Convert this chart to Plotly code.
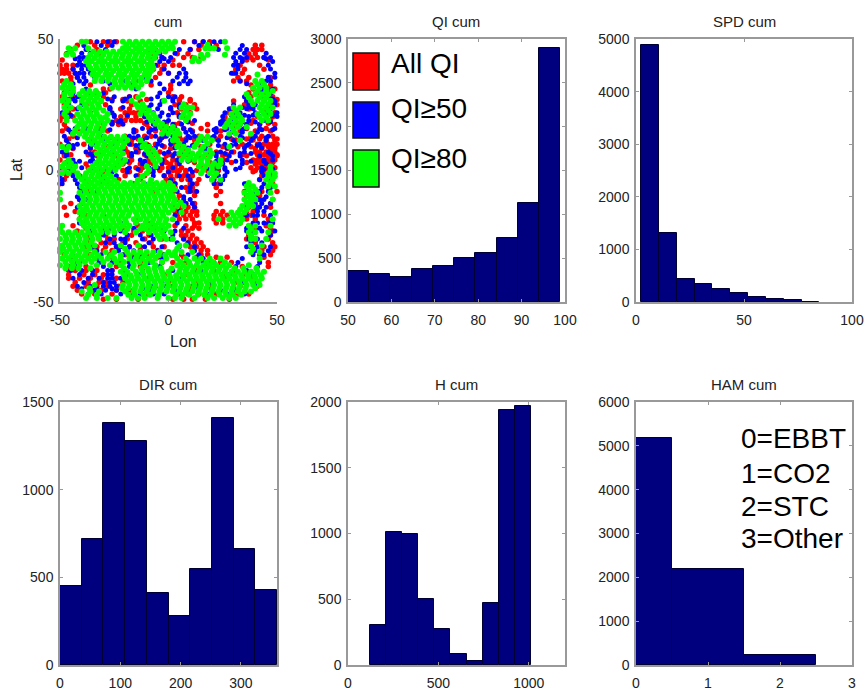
import plotly.graph_objects as go

W, H = 866, 691

# ---------- histogram data ----------
qi_centers = [52.4, 57.3, 62.2, 67.1, 72.0, 76.9, 81.8, 86.7, 91.6, 96.5]
qi_counts = [355, 320, 290, 380, 410, 500, 560, 730, 1130, 2900]
spd_centers = [6.5, 14.75, 23.0, 31.25, 39.5, 47.75, 56.0, 64.25, 72.5, 80.75]
spd_counts = [4880, 1310, 440, 340, 240, 170, 100, 50, 45, 8]
dir_centers = [18, 54, 90, 126, 162, 198, 234, 270, 306, 342]
dir_counts = [450, 720, 1380, 1280, 410, 280, 550, 1410, 660, 430]
h_centers = [166, 255, 344, 433, 522, 611, 700, 789, 878, 967]
h_counts = [305, 1015, 995, 500, 275, 80, 30, 475, 1940, 1970]
ham_centers = [0.0, 1.0, 2.0]
ham_counts = [5180, 2200, 220]

# ---------- scatter data: latitude rows with the longitudes read on each row ----------
red_lats = [49, 46, 43, 40, 37, 34, 31, 28, 25, 22, 19, 16, 13, 10, 7, 4, 1, -2, -5, -8, -11, -14, -17, -20, -23, -26, -29, -32, -35, -38, -41, -44, -47, -49,
            47.6, 44.4, 38.5, 35.4, 29.6, 26.4, 20.4, 17.5, 11.6, 8.4, 5.6, 2.5, -0.5, -3.4, -15.6, -18.4, -24.6, -27.5, -30.4, -39.6, -42.5,
            42, 32.5, 27, 23.4, 18, 15, 12, 9, 6, 3, 0, -6.5, -9.5, -12.5, -21, -22, -33, -36.5, -45.5]
red_lons = [
    [-36, -30, -27, -24, 7, 12, 16, 19],
    [-45, -33, -9, 10, 14, 39, 41, 43],
    [-6, -3, 7, 11, 15, 38, 41, 44],
    [-50, -47, -44, -5, -2, 2, 5, 33, 42],
    [-50, -48, -46, -43, -10, -4, 0, 30, 34],
    [-49, -45, -15, -10, 30, 33, 36],
    [-30, -27, 1, 39, 46, 49],
    [-49, -44, -30, -18, -15, 2, 6, 38, 42, 48],
    [-48, -38, -29, -17, -12, 3, 8, 12, 35, 47, 50],
    [-46, -36, -20, -18, -16, -14, 4, 10, 28, 31, 44, 49],
    [-50, -24, -20, -17, -15, -13, -5, 9, 27, 34, 39, 47],
    [-47, -32, -9, -3, 1, 7, 15, 30, 36, 45],
    [-44, -20, -11, -8, -2, 5, 14, 24, 38, 43, 48],
    [-50, -39, -17, -10, -6, 3, 12, 19, 34, 41, 44, 46, 48, 50],
    [-48, -34, -31, -19, -14, -4, 9, 22, 30, 40, 42, 45, 47, 49],
    [-50, -46, -22, -17, -9, -2, 2, 10, 25, 39, 41, 43, 45, 47, 49],
    [-49, -37, -25, -15, -12, -3, 0, 3, 6, 16, 21, 38, 41, 44, 46, 49],
    [-47, -41, -20, -14, -11, -2, 1, 4, 7, 11, 22, 43, 47],
    [-50, -38, -27, -16, -8, 0, 3, 10, 13, 23, 36, 48],
    [-36, -6, 2, 9, 12, 24, 35, 43, 50],
    [-41, 4, 42, 48],
    [-48, 3, 6, 9, 12, 37, 41, 47],
    [-47, -38, 4, 7, 10, 13, 21, 24, 27, 35, 38, 44],
    [-40, -15, -10, 12, 14, 22, 25, 33, 47],
    [-42, -35, -28, -16, -12, -6, 6, 9, 37, 39, 48],
    [-36, -32, -28, -25, -19, -11, -3, 7, 10, 13, 36, 40, 46],
    [-38, -33, -29, -24, -18, -13, -7, -2, 10, 13, 16, 38, 44, 49],
    [-48, -36, -27, -20, -16, -10, -3, 6, 15, 18, 42, 47],
    [-42, -30, -22, -12, -3, 2, 8, 19, 24, 29, 46],
    [-46, -43, -38, -33, -26, -12, 1, 13, 21, 30],
    [-46, -41, -36, -31, -24, -9, 4, 16, 27, 38],
    [-44, -38, -33, -28, -23, -6, 2, 11, 19, 33, 41],
    [-40, -34, -26, -16, -10, 4, 9, 14, 22, 32, 37],
    [-30, -24, -14, 2, 7, 11, 17, 28],
    [-42, -34, -28, 15, 22, 40, 43],
    [-47, -31, -8, 4, 9, 37, 40],
    [-49, -47, -44, -7, -3, 31, 35, 44],
    [-45, -42, -12, -6, 32, 37, 47],
    [-48, -33, -29, 0, 37, 41, 45],
    [-47, -31, -19, -13, 5, 10, 30, 36, 49],
    [-49, -44, -22, -19, -15, -11, 5, 7, 26, 30, 41, 48],
    [-48, -30, -23, -10, -6, 3, 18, 29, 33, 42, 49],
    [-47, -35, -17, -12, -4, 6, 12, 23, 31, 39, 45, 49],
    [-44, -36, -20, -15, -8, 1, 8, 16, 27, 40, 43, 47, 49],
    [-48, -33, -24, -18, -10, -1, 5, 14, 25, 36, 42, 46, 50],
    [-45, -38, -21, -13, -7, 1, 4, 18, 24, 40, 43, 47],
    [-50, -44, -29, -18, -9, 0, 4, 8, 19, 22, 39, 45, 48],
    [-48, -39, -23, -13, -1, 2, 6, 9, 14, 24, 42, 46],
    [-43, 3, 5, 8, 11, 13, 22, 25, 36, 39],
    [-41, -14, 5, 8, 11, 21, 25, 36, 40, 46],
    [-37, -29, -17, -9, 6, 8, 11, 37, 47],
    [-36, -31, -27, -21, -15, -8, 9, 12, 15, 40, 48],
    [-34, -30, -26, -19, -13, -5, 11, 15, 18, 43, 48],
    [-46, -39, -34, -30, -19, -2, 9, 25, 36],
    [-43, -37, -32, -29, -21, 0, 14, 31, 40],
    [-49, -8, 2, 36, 39, 46],
    [-48, -36, -18, -8, 1, 38, 47],
    [-46, -40, -26, -21, -10, 5, 10, 36, 44, 50],
    [-44, -27, -22, -18, 1, 6, 13, 29, 37, 45],
    [-26, -22, -11, -1, 5, 11, 26, 32, 38, 46],
    [-49, -42, -28, -15, -6, 4, 11, 18, 24, 33, 40, 47],
    [-46, -36, -24, -14, -4, 8, 16, 22, 29, 36, 42, 50],
    [-47, -28, -21, -12, -2, 6, 15, 25, 32, 38, 43, 46, 49],
    [-45, -37, -26, -11, -7, 1, 8, 18, 27, 34, 41, 44, 48, 50],
    [-47, -33, -18, -9, -1, 4, 12, 19, 29, 36, 40, 42, 45, 48],
    [-48, -31, -21, -13, -4, 2, 5, 8, 13, 18, 23, 40, 43, 47],
    [-37, -4, 3, 8, 11, 22, 37, 46],
    [-40, 5, 12, 22, 36, 42],
    [-45, 8, 12, 24, 38, 47],
    [-44, -14, -8, 3, 8, 12, 38, 45],
    [-38, -30, -20, -9, 11, 14, 40, 47],
    [-45, -37, -26, -14, -5, 7, 13, 22, 27, 44],
    [-46, -38, -24, -13, 18, 34, 46],
    [-42, -36, -31, -24, -18, 10, 20, 30],
]

blue_lats = [49, 46, 43, 40, 37, 34, 31, 28, 25, 22, 19, 16, 13, 10, 7, 4, 1, -2, -5, -8, -11, -14, -17, -20, -23, -26, -29, -32, -35, -38, -41, -44, -47,
             47.5, 44.6, 41.4, 38.6, 35.5, 29.5, 26.4, 23.5, 20.5, 17.6, 14.5, 11.4, 8.6, 5.5, 2.6, -0.6, -3.5, -12.5, -15.5, -24.5, -27.5, -30.5, -39.5, -42.6, -45.5,
             42.5, 33, 27.2, 24, 21, 18.4, 15.5, 12.5, 9.5, 6.5, 3.5, 0.5, -6.5, -10, -20, -22, -33.5, -36.5, -45]
blue_lons = [
    [-33, -28, -25, 12, 16, 21, 24],
    [-38, -29, -6, 5, 10, 23, 33, 36],
    [-41, -39, -37, -3, 1, 30, 33, 36, 44, 47],
    [-42, -40, -38, -6, 30, 32, 46],
    [-43, -41, -39, -36, 0, 5, 8, 29, 31, 49],
    [-41, -38, -30, -20, -8, 2, 7, 10, 33, 45, 47],
    [-46, -38, -15, -2, 42, 44, 48],
    [-42, -25, -18, -5, 0, 3, 35, 37, 46],
    [-46, -40, -12, -8, -4, 5, 30, 37, 40, 49],
    [-49, -26, -12, -7, -3, 2, 26, 33, 40, 46, 50],
    [-40, -22, -9, -6, 0, 12, 25, 29, 37, 44],
    [-43, -38, -12, -6, -1, 3, 7, 22, 27, 35, 42, 49],
    [-48, -30, -18, -14, -6, -1, 2, 9, 12, 21, 28, 33, 40, 46],
    [-46, -42, -35, -26, -18, -13, -5, 1, 7, 13, 18, 26, 31, 37, 42],
    [-49, -38, -26, -21, -15, -7, 0, 6, 17, 24, 29, 35, 46],
    [-44, -35, -21, -13, -7, -3, 4, 23, 27, 34, 44, 48],
    [-46, -40, -29, -18, -9, -5, 2, 20, 23, 26, 33, 43],
    [-50, -44, -30, -24, -15, -7, -2, 5, 9, 18, 23, 26, 44, 46],
    [-49, -42, -31, -20, -11, 3, 11, 21, 24, 35, 44],
    [-40, -33, 4, 10, 13, 40, 42, 46],
    [-41, -38, 7, 10, 40, 42, 44],
    [-42, 12, 36, 40, 42, 45],
    [-40, -30, 3, 36, 39, 41, 47],
    [-39, -22, -8, 39, 44, 48],
    [-36, -30, -22, -15, -2, 3, 36, 38, 43, 49],
    [-27, -22, -20, -12, -7, -4, 1, 7, 37, 39, 41],
    [-35, -24, -22, -18, -11, -3, 5, 12, 36, 41, 47],
    [-44, -31, -21, -13, -2, 9, 14, 39, 44],
    [-41, -32, -26, -18, -9, 16, 21, 32, 42],
    [-45, -40, -35, -28, -26, -20, 2, 8, 15, 36],
    [-44, -37, -32, -28, -26, -22, -5, 6, 25],
    [-42, -36, -30, -27, -24, -8, -1, 13, 30, 40],
    [-37, -31, -22, -13, -7, -2, 5, 19, 27, 35],
    [-39, -31, -26, 14, 19, 34],
    [-40, -36, -4, 3, 31, 35, 45],
    [-41, -37, -4, 0, 31, 34, 48],
    [-44, -40, -37, -2, 7, 32, 47],
    [-42, -39, -34, -11, 4, 8, 46, 49],
    [-44, -37, -30, -4, 43, 47],
    [-43, -26, -21, -3, 2, 36, 44, 49],
    [-42, -27, -10, -5, 1, 28, 36, 39, 47],
    [-46, -25, -11, -4, 5, 25, 31, 37, 42, 50],
    [-41, -26, -21, -7, 2, 6, 24, 29, 36, 42],
    [-45, -32, -16, -9, -2, 8, 11, 22, 29, 34, 41],
    [-47, -29, -20, -12, -4, 1, 8, 16, 23, 30, 38, 45],
    [-44, -36, -21, -13, -6, 3, 9, 17, 27, 35, 43],
    [-47, -35, -17, -10, 2, 22, 28, 33, 42, 48],
    [-43, -34, -22, -12, -3, 5, 21, 25, 34, 45],
    [-45, -26, -19, -7, 0, 11, 22, 27, 43, 47],
    [-49, -43, -29, -14, 1, 10, 21, 25, 42, 46],
    [-40, 8, 11, 40, 43, 47],
    [-40, 5, 41, 44],
    [-30, -25, -19, -13, -8, 2, 38, 47],
    [-29, -25, -20, -9, 4, 9, 38, 43],
    [-33, -23, -16, -5, 12, 40, 46],
    [-41, -35, -28, -26, -14, 28, 39],
    [-39, -30, -27, -25, -3, 20, 35],
    [-34, -29, -24, -9, 3, 24],
    [-43, -39, -2, 34, 45],
    [-44, -39, -27, -18, -4, 5, 9, 36, 43],
    [-44, -28, -20, -8, 2, 37, 48],
    [-47, -27, -21, -9, 1, 5, 34, 38, 47],
    [-45, -25, -19, -11, 0, 5, 29, 35, 39, 48],
    [-26, -23, -10, -2, 9, 24, 34, 40, 47],
    [-46, -27, -16, -8, 0, 10, 21, 26, 34, 43, 48],
    [-42, -27, -16, -10, -3, 10, 20, 27, 34, 39, 45],
    [-44, -36, -15, -9, -3, 11, 23, 29, 36, 41],
    [-47, -36, -17, -11, -2, 3, 22, 26, 33, 38, 47],
    [-41, -36, -19, -11, -3, 9, 22, 31, 38, 44],
    [-44, -34, -19, -14, -7, 10, 19, 26, 31, 44, 48],
    [-41, 6, 10, 43, 47],
    [-42, 7, 40, 45],
    [-41, 4, 41, 46],
    [-27, -16, -3, 7, 36, 42],
    [-43, -33, -16, -3, 16, 34],
    [-42, -30, -18, -4, 31, 41],
    [-40, -33, -26, -12, 14, 30],
]

green_lats = [49, 46.5, 44, 41.5, 39, 36.5, 34, 31.5, 29, 26.5, 24, 21.5, 19, 16.5, 14, 11.5, 9, 6.5, 4, 1.5, -1, -3.5, -6, -8.5, -11, -13.5, -16, -18.5, -21, -23.5, -26, -28.5, -31, -33.5, -36, -38.5, -41, -43.5, -46, -48.5,
              47.8, 45.2, 42.8, 40.2, 37.8, 35.2, 32.8, 30.2, 27.8, 25.2, 22.8, 20.2, 17.8, 15.2, 12.8, 10.2, 7.8, 5.2, 2.8, 0.2, -2.2, -4.8, -7.2, -9.8, -12.2, -14.8, -17.2, -19.8, -22.2, -24.8, -27.2, -29.8, -32.2, -34.8, -37.2, -39.8, -42.2, -44.8, -47.2]
green_lons = [
    [-40, -38, -21, -18, -15, -12, -9, -6, -3, 0, 3, 26],
    [-46, -43, -37, -21, -18.5, -15, -12.5, -9, -6.5, -3, 0, 2, 17, 19, 21, 27],
    [-47, -44, -36, -33, -30, -27, -24, -21, -18, -15, -12, -9, -6, 15, 18, 26],
    [-38, -35.5, -32, -29.5, -26, -23.5, -20, -17.5, -14, -11.5, -8, 11, 14],
    [-36, -33, -30, -27, -24, -21, -18, -15, -12, -9, -7],
    [-35, -32.5, -29, -26.5, -23, -20.5, -17, -14.5, -11, -9, 41],
    [-47, -34, -31, -28, -25, -22, -19, -16, -13, -10, 40, 43],
    [-49, -46, -44, -26, -23, -20, -17, -14, 39, 42, 45],
    [-48, -45, -41, -38, -35, -32, -12, 36, 40, 43, 46],
    [-49, -46, -40, -37, -34, -31, -17, -2, 38, 41, 44, 47],
    [-48, -45, -41, -38, -35, -32, -14, -11, 6, 9, 11, 30, 33, 42, 45, 48],
    [-48, -42, -39, -36, -33, -28, -13, -10, -7, 7, 10, 29, 32, 41, 44, 47],
    [-47, -43, -40, -37, -34, -31, -28, -8, -5, 8, 28, 31, 34, 43, 46],
    [-42, -39, -36, -33, -30, -4, -1, 2, 26, 29, 32, 36],
    [-44, -41, -38, -35, -32, -3, 0, 3, 5, 28, 31, 38],
    [-37, -34, -31, -28, -25, -22, -19, -13, 2, 4, 14, 17, 20, 33],
    [-49, -46, -33, -30, -27, -24, -21, -12, -9, 4, 7, 12, 16, 28],
    [-33, -30, -27, -24, -21, -9, -6, 5, 8, 11, 14, 17, 20],
    [-46, -32, -29, -26, -23, -20, -7, -4, 6, 9, 12, 15, 18, 24],
    [-49, -46, -43, -35, -32, -29, -26, -23, -10, -6, 14, 17, 20, 23, 47],
    [-49, -46, -42, -38, -35, -32, -28, -10, 15, 19, 22, 46, 49],
    [-40, -37, -34, -31, -28, -25, -14, -8, 20, 24, 45, 48],
    [-40, -37, -34, -31, -28, -25, -22, -19, -16, -13, -10, -7, -4, -1, 2, 36, 39, 46, 49],
    [-50, -41, -38, -35, -32, -29, -26, -23, -20, -17, -14, -11, -8, -5, -2, 1, 35, 38, 41, 47],
    [-50, -39, -36, -33, -30, -27, -24, -21, -18, -15, -12, -9, -6, -3, 0, 3, 35, 38, 40, 48],
    [-41, -38, -35, -32, -29, -26, -23, -20, -17, -14, -11, -8, -5, -2, 1, 4, 7, 34, 37, 39],
    [-41, -39, -36, -33, -30, -27, -24, -21, -18, -15, -12, -9, -6, -3, 0, 6, 29, 32, 35, 49],
    [-41, -38, -35, -32, -29, -26, -23, -20, -16, -13, -10, -7, -4, -1, 2, 23, 28, 31, 34, 48],
    [-49, -39, -36, -33, -30, -27, -24, -21, -18, -12, -9, -6, -3, 0, 28, 31, 37, 40, 47],
    [-49, -46, -43, -40, -37, -34, -31, -28, -25, -20, -15, -9, -6, -3, 1, 37, 40, 46],
    [-50, -47, -44, -41, -38, -35, -32, -4, -1, 2, 38, 40, 45],
    [-49, -46, -43, -40, -37, -34, -22, -14, 5, 8, 38, 43],
    [-50, -47, -44, -41, -38, -34, -29, -25, -19, -16, -13, -10, -7, -4, 0, 3, 6, 11, 38, 42],
    [-49, -46, -43, -40, -37, -34, -31, -28, -25, -22, -18, -15, -12, -9, -6, -1, 4, 8, 12, 15, 19, 24, 42],
    [-50, -47, -44, -41, -33, -27, -22, -16, -11, -6, 4, 7, 10, 13, 16, 19, 22, 25, 28, 37],
    [-22, -19, -15, -12, -9, -6, -3, 0, 5, 8, 11, 14, 17, 20, 23, 26, 29, 32, 35, 38, 41, 44],
    [-20, -17, -14, -11, -8, -5, -2, 1, 4, 7, 10, 13, 16, 19, 22, 25, 28, 31, 34, 37, 40, 43],
    [-34, -21, -18, -15, -12, -9, -6, -3, 0, 3, 6, 9, 12, 15, 18, 21, 24, 27, 30, 33, 36, 39, 42],
    [-40, -36, -32, -20, -16, -13, -10, -7, -4, -1, 2, 5, 8, 11, 14, 17, 20, 23, 26, 29, 32, 35, 38],
    [-38, -33, -28, -24, -17, -14, -11, -5, 0, 3, 6, 12, 18, 21, 25, 28, 31],
    [-19.5, -16.5, -13.5, -10.5, -7.5, -4.5, -1.5, 1.5, 18],
    [-45, -34.5, -31.5, -28.5, -25.5, -22.5, -19.5, -16.5, -13.5, -10.5, -7.5, -4.5, -1.5],
    [-37, -34, -31, -27.5, -24.5, -21.5, -18.5, -15.5, -12.5, -9.5, -6.5, 12, 16],
    [-36.8, -33.5, -30.5, -27.5, -24.5, -21.5, -18.5, -15.5, -12.5, -9.5, -7.5],
    [-34.5, -31.5, -28.5, -25.5, -22.5, -19.5, -16.5, -13.5, -10.5, -8],
    [-33.5, -30.5, -27.5, -24.5, -21.5, -18.5, -15.5, -12.5, -9.5],
    [-48, -45, -24.5, -21.5, -18.5, -15.5, -12.5, 41, 44],
    [-47, -44, -39.5, -36.5, -33.5, 41, 45, 48],
    [-48, -39, -36, -33, -14, 37, 42, 45],
    [-47, -38.5, -35.5, -32.5, -15, -12, 7, 39, 43, 46],
    [-47, -39.5, -36.5, -33.5, -30, -12, -9, 8, 31, 43, 46],
    [-47, -40.5, -37.5, -34.5, -31.5, -29, -9, -6, 6, 9, 30, 33, 42, 45],
    [-41, -38.5, -35.5, -32.5, -29.5, -6, -3, 27, 30, 33],
    [-43, -39.5, -36.5, -33.5, -30.5, -2, 1, 4, 30],
    [-38.5, -35.5, -32.5, -29.5, -26.5, -23.5, -20.5, 3, 15, 18],
    [-35.5, -32.5, -29.5, -26.5, -23.5, -20.5, -11, 5, 13, 18],
    [-47, -31.5, -28.5, -25.5, -22.5, -10, -7, 6, 9, 15, 19],
    [-31.5, -28.5, -25.5, -22.5, -8, -5, 7, 10, 13, 16, 19],
    [-48, -45, -33.5, -30.5, -27.5, -24.5, -21.5, -6, 15, 18, 21, 24],
    [-48, -44, -36.5, -33.5, -30.5, -27.5, -24.5, -9, 16, 20, 47],
    [-41.5, -38.5, -35.5, -32.5, -29.5, -26.5, -12, 21, 46, 49],
    [-38.5, -35.5, -32.5, -29.5, -26.5, -23.5, -20.5, -17.5, -14.5, -11.5, -8.5, -5.5, -2.5, 0.5, 37, 47],
    [-38.5, -35.5, -32.5, -29.5, -26.5, -23.5, -20.5, -17.5, -14.5, -11.5, -8.5, -5.5, -2.5, 0.5, 3, 37, 40],
    [-39.5, -36.5, -33.5, -30.5, -27.5, -24.5, -21.5, -18.5, -15.5, -12.5, -9.5, -6.5, -3.5, -0.5, 2, 36.5, 39],
    [-39.5, -36.5, -33.5, -30.5, -27.5, -24.5, -21.5, -18.5, -15.5, -12.5, -9.5, -6.5, -3.5, -0.5, 2.5, 5.5, 36, 38],
    [-39.5, -37.5, -34.5, -31.5, -28.5, -25.5, -22.5, -19.5, -16.5, -13.5, -10.5, -7.5, -4.5, -1.5, 2, 33, 36],
    [-39.5, -36.5, -33.5, -30.5, -27.5, -24.5, -21.5, -18.5, -14.5, -11.5, -8.5, -5.5, -2.5, 30, 33],
    [-40, -37.5, -34.5, -31.5, -28.5, -25.5, -22.5, -19.5, -15, -10.5, -7.5, -4.5, -1.5, 30, 33],
    [-50, -37.5, -34.5, -31.5, -28.5, -25.5, -22.5, -19, -13, -10.5, -7.5, -4.5, -1.5, 38],
    [-47.5, -44.5, -41.5, -38.5, -35.5, -32.5, -5, -2, 38],
    [-47.5, -44.5, -41.5, -38.5, -35.5],
    [-50, -48.5, -45.5, -42.5, -39.5, -36.5, -20, 4, 39],
    [-47.5, -44.5, -41.5, -38.5, -35.5, -32.5, -26.5, -22, -18, -14.5, -11, -7.5, -4.5, -1.5, 1.5, 3],
    [-47.5, -44.5, -41.5, -38.5, -35.5, -30, -24, -20.5, -16.5, -13.5, -10.5, -7.5, -3, 5.5, 9.5, 13.5, 17.5, 20.5, 26],
    [-47.5, -44.5, -41.5, -36, -20.5, -16.5, -12.5, -9.5, -6.5, -3.5, 1.5, 5.5, 8.5, 11.5, 14.5, 17.5, 20.5, 23.5, 26.5, 30.5, 34.5, 40.5],
    [-20.5, -17.5, -14.5, -11.5, -8.5, -5.5, -2.5, 0.5, 3.5, 6.5, 9.5, 12.5, 15.5, 18.5, 21.5, 24.5, 27.5, 30.5, 33.5, 36.5, 39.5, 42.5],
    [-18.5, -15.5, -12.5, -9.5, -6.5, -3.5, -0.5, 2.5, 5.5, 8.5, 11.5, 14.5, 17.5, 20.5, 23.5, 26.5, 29.5, 32.5, 35.5, 38.5, 41.5],
    [-36.5, -21.5, -18.5, -15.5, -12.5, -9.5, -6.5, -3.5, -0.5, 2.5, 5.5, 8.5, 11.5, 14.5, 17.5, 20.5, 23.5, 26.5, 29.5, 32.5, 35.5, 40],
    [-37, -33, -18.5, -15.5, -11.5, -8.5, -4.5, 3.5, 6.5, 9.5, 13.5, 16.5, 19.5, 23.5, 26.5, 29.5, 33.5],
]

qi_bar_width = 4.9
spd_bar_width = 8.25
dir_bar_width = 36
h_bar_width = 88.9
ham_bar_widths = [1.0, 1.0, 1.0]

panel_titles = ["cum", "QI cum", "SPD cum", "DIR cum", "H cum", "HAM cum"]
legend_labels = ["All QI", "QI≥50", "QI≥80"]
legend_colors = ["#ff0000", "#0000ff", "#00ff00"]
ham_labels = ["0=EBBT", "1=CO2", "2=STC", "3=Other"]
lonlat_tick_labels = ["-50", "0", "50"]

# ---------- layout helpers ----------
FONT = "Liberation Sans, Arial, sans-serif"
INK = "#222222"
AXIS = "#999999"
NAVY = "#00007f"


def px(x):
    return x / W


def py(y):
    return 1 - y / H


def flatten(lats, lons):
    xs, ys = [], []
    for lat, row in zip(lats, lons):
        for lon in row:
            xs.append(lon)
            ys.append(lat)
    return xs, ys


def axis(x0, x1, rng, ticks, mirror="ticks", standoff=4):
    return dict(
        domain=[px(x0), px(x1)], range=rng, tickvals=ticks, ticks="inside", ticklen=3,
        tickcolor=AXIS, linecolor=AXIS, linewidth=1.5, mirror=mirror, showline=True,
        showgrid=False, zeroline=False, tickfont=dict(family=FONT, size=14, color=INK),
        ticklabelstandoff=standoff, automargin=False,
    )


def yaxis(y0, y1, rng, ticks, anchor, mirror="ticks"):
    a = axis(0, 1, rng, ticks, mirror, 2)
    a["domain"] = [py(y1), py(y0)]
    a["anchor"] = anchor
    return a


fig = go.Figure()
for lats, lons, color, size in [
    (red_lats, red_lons, legend_colors[0], 5.5),
    (blue_lats, blue_lons, legend_colors[1], 5),
    (green_lats, green_lons, legend_colors[2], 6),
]:
    xs, ys = flatten(lats, lons)
    fig.add_trace(go.Scatter(x=xs, y=ys, mode="markers", xaxis="x", yaxis="y",
                             marker=dict(color=color, size=size, line=dict(width=0)),
                             cliponaxis=False, showlegend=False))


def bars(centers, counts, width, n):
    fig.add_trace(go.Bar(x=centers, y=counts, width=width, xaxis=f"x{n}", yaxis=f"y{n}",
                         marker=dict(color=NAVY, line=dict(color="#000033", width=1)),
                         showlegend=False))


bars(qi_centers, qi_counts, qi_bar_width, 2)
bars(spd_centers, spd_counts, spd_bar_width, 3)
bars(dir_centers, dir_counts, dir_bar_width, 4)
bars(h_centers, h_counts, h_bar_width, 5)
bars(ham_centers, ham_counts, ham_bar_widths, 6)

# Pixel frames of the six panels
cols = [(60, 277), (348, 565), (636, 852)]
rows = [(39, 302), (402, 665)]

annotations = []
centers_x = [168, 456, 744]
title_y = [21, 384]
for i, title in enumerate(panel_titles):
    annotations.append(dict(x=px(centers_x[i % 3]), y=py(title_y[i // 3]), xref="paper", yref="paper",
                            text=title, showarrow=False, xanchor="center", yanchor="middle",
                            font=dict(family=FONT, size=15, color=INK)))

annotations.append(dict(x=px(168), y=py(341), xref="paper", yref="paper", text="Lon", showarrow=False,
                        font=dict(family=FONT, size=16, color=INK), yanchor="middle"))
annotations.append(dict(x=px(16), y=py(170), xref="paper", yref="paper", text="Lat", showarrow=False,
                        textangle=-90, font=dict(family=FONT, size=16, color=INK),
                        xanchor="center", yanchor="middle"))

legend_text_y = [63, 108, 159]
for label, y in zip(legend_labels, legend_text_y):
    annotations.append(dict(x=px(389), y=py(y), xref="paper", yref="paper", text=label, showarrow=False,
                            xanchor="left", yanchor="middle",
                            font=dict(family=FONT, size=28, color="#000000")))

ham_text_y = [438, 473, 507, 538]
for label, y in zip(ham_labels, ham_text_y):
    annotations.append(dict(x=px(739), y=py(y), xref="paper", yref="paper", text=label, showarrow=False,
                            xanchor="left", yanchor="middle", align="left",
                            font=dict(family=FONT, size=28, color="#000000")))

shapes = []
legend_boxes = [(53, 90), (102, 138), (150, 187)]
for (y0, y1), color in zip(legend_boxes, legend_colors):
    shapes.append(dict(type="rect", xref="paper", yref="paper", x0=px(353), x1=px(379), y0=py(y1), y1=py(y0),
                       fillcolor=color, line=dict(color="#111111", width=1.5)))

fig.update_layout(
    width=W, height=H, autosize=False, margin=dict(l=0, r=0, t=0, b=0, autoexpand=False),
    paper_bgcolor="white", plot_bgcolor="white", bargap=0, showlegend=False,
    annotations=annotations, shapes=shapes,
    xaxis=dict(axis(*cols[0], [-50, 50], [-50, 0, 50], mirror=False), ticktext=lonlat_tick_labels),
    yaxis=dict(yaxis(*rows[0], [-50, 50], [-50, 0, 50], "x", mirror=False), ticktext=lonlat_tick_labels),
    xaxis2=dict(axis(*cols[1], [50, 100], [50, 60, 70, 80, 90, 100]), anchor="y2"),
    yaxis2=yaxis(*rows[0], [0, 3000], [0, 500, 1000, 1500, 2000, 2500, 3000], "x2"),
    xaxis3=dict(axis(*cols[2], [0, 100], [0, 50, 100]), anchor="y3"),
    yaxis3=yaxis(*rows[0], [0, 5000], [0, 1000, 2000, 3000, 4000, 5000], "x3"),
    xaxis4=dict(axis(*cols[0], [0, 360], [0, 100, 200, 300]), anchor="y4"),
    yaxis4=yaxis(*rows[1], [0, 1500], [0, 500, 1000, 1500], "x4"),
    xaxis5=dict(axis(*cols[1], [0, 1200], [0, 500, 1000]), anchor="y5"),
    yaxis5=yaxis(*rows[1], [0, 2000], [0, 500, 1000, 1500, 2000], "x5"),
    xaxis6=dict(axis(*cols[2], [0, 3], [0, 1, 2, 3]), anchor="y6"),
    yaxis6=yaxis(*rows[1], [0, 6000], [0, 1000, 2000, 3000, 4000, 5000, 6000], "x6"),
)
fig.layout.xaxis.anchor = "y"

fig.write_html("out.html", config={"displayModeBar": False},
               post_script="document.body.style.margin='0';document.documentElement.style.overflow='hidden';")
